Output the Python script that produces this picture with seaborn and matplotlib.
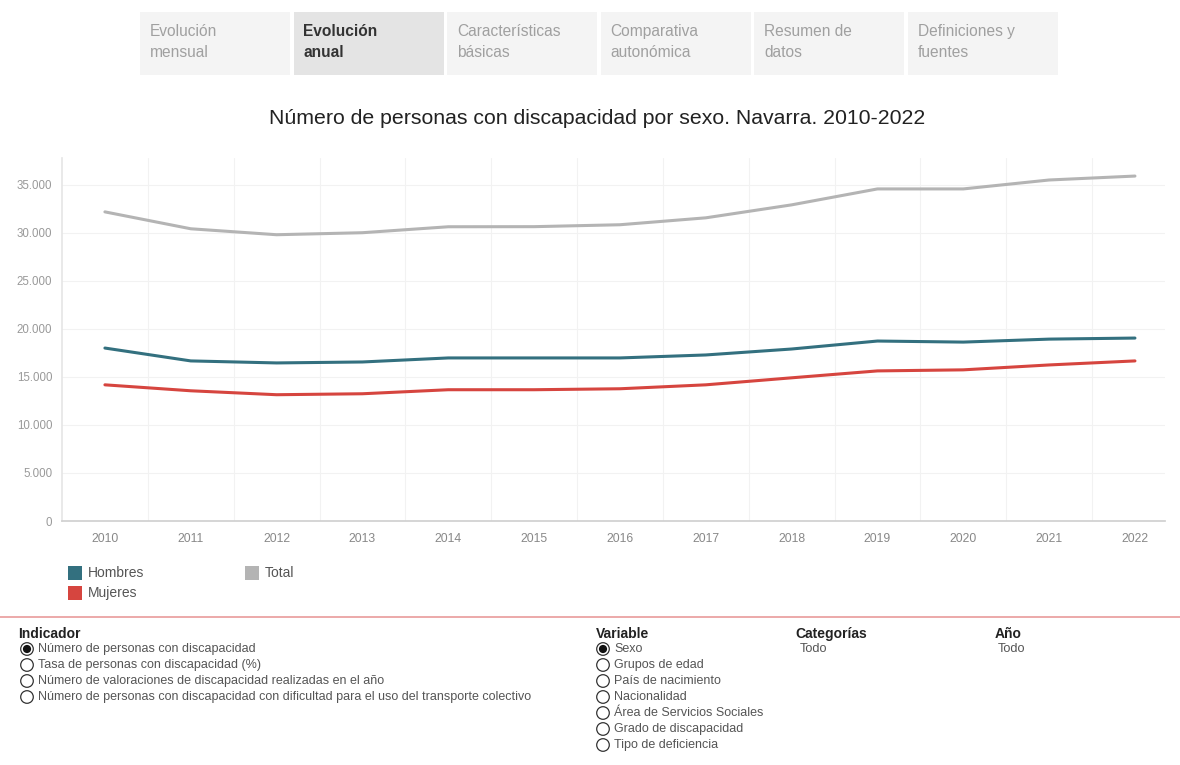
import pandas as pd
import matplotlib.pyplot as plt
import seaborn as sns
from matplotlib.patches import Rectangle, Circle
from matplotlib.ticker import FuncFormatter, MultipleLocator

# Datos
years = list(range(2010, 2023))
hombres = [18010, 16670, 16460, 16560, 16980, 16980, 16980, 17290, 17910, 18740, 18630, 18940, 19050]
mujeres = [14180, 13560, 13150, 13250, 13670, 13670, 13770, 14180, 14910, 15630, 15740, 16250, 16670]
total = [32190, 30430, 29810, 30020, 30640, 30650, 30850, 31570, 32920, 34580, 34580, 35510, 35920]

tabs = [("Evolución\nmensual", False), ("Evolución\nanual", True), ("Características\nbásicas", False),
        ("Comparativa\nautonómica", False), ("Resumen de\ndatos", False), ("Definiciones y\nfuentes", False)]
indicadores = ["Número de personas con discapacidad", "Tasa de personas con discapacidad (%)",
               "Número de valoraciones de discapacidad realizadas en el año",
               "Número de personas con discapacidad con dificultad para el uso del transporte colectivo"]
variables = ["Sexo", "Grupos de edad", "País de nacimiento", "Nacionalidad",
             "Área de Servicios Sociales", "Grado de discapacidad", "Tipo de deficiencia"]

colors = {"Hombres": "#33707f", "Mujeres": "#d6453f", "Total": "#b4b4b4"}

df = pd.DataFrame({"Año": years * 3,
                   "Personas": hombres + mujeres + total,
                   "Sexo": ["Hombres"] * 13 + ["Mujeres"] * 13 + ["Total"] * 13})

sns.set_theme(style="white")
plt.rcParams["font.family"] = ["Liberation Sans", "DejaVu Sans"]

fig = plt.figure(figsize=(11.8, 7.65), dpi=100)
W, H = 1180, 765
ax = fig.add_axes([62 / W, 1 - 521 / H, (1165 - 62) / W, (521 - 158) / H])

sns.lineplot(data=df, x="Año", y="Personas", hue="Sexo", palette=colors,
             linewidth=2.2, legend=False, ax=ax)

ax.set_xlim(2009.5, 2022.35)
ax.set_ylim(0, 37800)
ax.set_xticks(years)
ax.yaxis.set_major_locator(MultipleLocator(5000))
ax.yaxis.set_major_formatter(FuncFormatter(lambda v, p: f"{int(v):,}".replace(",", ".")))
ax.set_xlabel("")
ax.set_ylabel("")
ax.tick_params(axis="x", labelsize=8.8, colors="#888888", length=0, pad=9)
ax.tick_params(axis="y", labelsize=8.3, colors="#999999", length=0, pad=7)
for y in range(5000, 37000, 5000):
    ax.axhline(y, color="#f2f2f2", lw=0.8, zorder=0)
for x in years[:-1]:
    ax.axvline(x + 0.5, color="#f2f2f2", lw=0.8, zorder=0)
for s in ["top", "right"]:
    ax.spines[s].set_visible(False)
ax.spines["left"].set_color("#e6e6e6")
ax.spines["bottom"].set_color("#d0d0d0")

# capa de interfaz en pixeles
ui = fig.add_axes([0, 0, 1, 1], zorder=-1)
ui.set_xlim(0, W)
ui.set_ylim(H, 0)
ui.axis("off")

x0 = 140
for label, sel in tabs:
    ui.add_patch(Rectangle((x0, 12), 150, 63, color="#e4e4e4" if sel else "#f4f4f4", lw=0))
    ui.text(x0 + 10, 42, label, fontsize=11.2, color="#333333" if sel else "#a0a0a0",
            fontweight="bold" if sel else "normal", va="center", ha="left", linespacing=1.45)
    x0 += 153.5

fig.text(597 / W, 1 - 118 / H, "Número de personas con discapacidad por sexo. Navarra. 2010-2022",
         fontsize=15.3, color="#222222", ha="center", va="center")

# leyenda
for name, lx, ly in [("Hombres", 68, 573), ("Mujeres", 68, 593), ("Total", 245, 573)]:
    ui.add_patch(Rectangle((lx, ly - 7), 14, 14, color=colors[name], lw=0))
    ui.text(lx + 20, ly, name, fontsize=10, color="#555555", va="center")

ui.plot([0, W], [617, 617], color="#e99b9b", lw=1.2)

ov = fig.add_axes([0, 0, 1, 1])
ov.set_xlim(0, W)
ov.set_ylim(H, 0)
ov.axis("off")


def radio(x, y, label, on):
    ov.add_patch(Circle((x, y), 6.3, fill=False, ec="#333333", lw=0.9))
    if on:
        ov.add_patch(Circle((x, y), 3.4, color="#111111"))
    ov.text(x + 11, y, label, fontsize=9, color="#555555", va="center")


ov.text(18, 634, "Indicador", fontsize=10, fontweight="bold", color="#222222", va="center")
for i, t in enumerate(indicadores):
    radio(27, 649 + i * 16, t, i == 0)
ov.text(596, 634, "Variable", fontsize=10, fontweight="bold", color="#222222", va="center")
for i, t in enumerate(variables):
    radio(603, 649 + i * 16, t, i == 0)
ov.text(795, 634, "Categorías", fontsize=10, fontweight="bold", color="#222222", va="center")
ov.text(800, 649, "Todo", fontsize=9.2, color="#555555", va="center")
ov.text(995, 634, "Año", fontsize=10, fontweight="bold", color="#222222", va="center")
ov.text(998, 649, "Todo", fontsize=9.2, color="#555555", va="center")

fig.savefig("out.png", dpi=100, facecolor="white")
